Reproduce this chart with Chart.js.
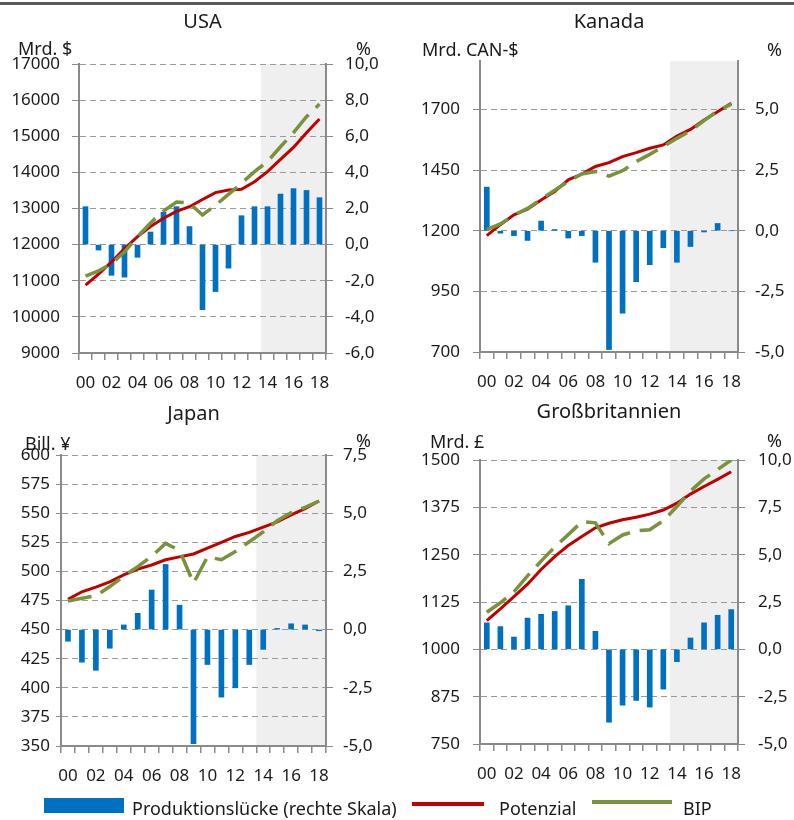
<!DOCTYPE html>
<html lang="de">
<head>
<meta charset="utf-8">
<title>Produktionslücke, Potenzial und BIP</title>
<script src="https://cdn.jsdelivr.net/npm/chart.js@4.4.1/dist/chart.umd.min.js"></script>
<style>
  html, body { margin: 0; padding: 0; background: #fff; }
  body { width: 794px; height: 820px; position: relative; overflow: hidden;
         font-family: "Noto Sans", "DejaVu Sans", sans-serif; color: #1a1a1a; }
  .rule { position: absolute; left: 0; top: 2px; width: 794px; height: 3px; background: #5a5a5a; }
  .panel { position: absolute; width: 397px; height: 400px; }
  .legend { position: absolute; left: 0; top: 0; width: 794px; height: 820px; pointer-events: none; }
  .legend .sw { position: absolute; }
  .legend .tx { position: absolute; font-size: 18px; line-height: 18px; white-space: nowrap; }
</style>
</head>
<body>
<div class="rule"></div>
<canvas id="usa" class="panel" width="397" height="400" style="left:0;top:0"></canvas>
<canvas id="can" class="panel" width="397" height="400" style="left:397px;top:0"></canvas>
<canvas id="jpn" class="panel" width="397" height="400" style="left:0;top:400px"></canvas>
<canvas id="gbr" class="panel" width="397" height="400" style="left:397px;top:400px"></canvas>

<div class="legend">
  <div class="sw" style="left:44px;top:798px;width:80px;height:15px;background:#0070C0"></div>
  <div class="tx" style="left:132px;top:799px">Produktionslücke (rechte Skala)</div>
  <div class="sw" style="left:412px;top:802px;width:72px;height:4px;background:#C00000"></div>
  <div class="tx" style="left:499px;top:799px">Potenzial</div>
  <div class="sw" style="left:592px;top:800px;width:80px;height:4px;background:#77933C"></div>
  <div class="tx" style="left:683px;top:799px">BIP</div>
</div>

<script>
// Years 2000–2018, shown as two-digit labels
const years = ['00','01','02','03','04','05','06','07','08','09','10','11','12','13','14','15','16','17','18'];

// USA (Mrd. $; output gap in %)
const usaGap = [2.1, -0.3, -1.7, -1.8, -0.7, 0.7, 1.8, 2.1, 1.0, -3.6, -2.6, -1.3, 1.6, 2.1, 2.1, 2.8, 3.1, 3.0, 2.6];
const usaPot = [10880, 11180, 11520, 11890, 12220, 12500, 12730, 12920, 13050, 13250, 13440, 13510, 13530, 13740, 14020, 14360, 14690, 15100, 15480];
const usaGdp = [11130, 11270, 11480, 11800, 12220, 12600, 12930, 13180, 13150, 12820, 13090, 13390, 13700, 14020, 14300, 14710, 15100, 15540, 15890];

// Kanada (Mrd. CAN-$)
const canGap = [1.8, -0.1, -0.2, -0.4, 0.4, 0.05, -0.3, -0.2, -1.3, -4.9, -3.4, -2.1, -1.4, -0.7, -1.3, -0.65, -0.05, 0.3, 0];
const canPot = [1180, 1225, 1266, 1289, 1327, 1362, 1410, 1434, 1465, 1481, 1506, 1522, 1540, 1554, 1591, 1618, 1657, 1691, 1726];
const canGdp = [1205, 1228, 1264, 1292, 1330, 1367, 1404, 1434, 1444, 1425, 1448, 1485, 1515, 1547, 1581, 1612, 1654, 1694, 1722];

// Japan (Bill. ¥)
const jpnGap = [-0.5, -1.4, -1.75, -0.8, 0.2, 0.7, 1.7, 2.8, 1.05, -4.9, -1.5, -2.9, -2.5, -1.5, -0.85, 0.05, 0.25, 0.2, -0.05];
const jpnPot = [476, 482.5, 486.5, 491, 497, 502, 505.5, 510, 512.5, 515, 520, 525, 530, 533.5, 538, 542.5, 548.5, 554, 560.5];
const jpnGdp = [474.5, 477, 479, 487, 496, 504, 513, 524, 518, 490, 512.5, 510, 517, 525.5, 534, 543.5, 550.5, 555, 560.5];

// Großbritannien (Mrd. £)
const gbrGap = [1.4, 1.2, 0.65, 1.65, 1.85, 2.0, 2.3, 3.7, 0.95, -3.85, -2.95, -2.7, -3.05, -2.1, -0.65, 0.6, 1.4, 1.8, 2.1];
const gbrPot = [1076, 1107, 1139, 1172, 1211, 1245, 1274, 1298, 1321, 1333, 1342, 1349, 1357, 1368, 1386, 1410, 1430, 1449, 1469];
const gbrGdp = [1098, 1123, 1152, 1194, 1233, 1270, 1303, 1337, 1334, 1279, 1302, 1313, 1316, 1340, 1377, 1418, 1450, 1475, 1500];

// Axis tick values (left: level, right: output gap)
const usaLeftTicks  = [9000, 10000, 11000, 12000, 13000, 14000, 15000, 16000, 17000];
const usaRightTicks = [-6, -4, -2, 0, 2, 4, 6, 8, 10];
const canLeftTicks  = [700, 950, 1200, 1450, 1700];
const canRightTicks = [-5, -2.5, 0, 2.5, 5];
const jpnLeftTicks  = [350, 375, 400, 425, 450, 475, 500, 525, 550, 575, 600];
const jpnRightTicks = [-5, -2.5, 0, 2.5, 5, 7.5];
const gbrLeftTicks  = [750, 875, 1000, 1125, 1250, 1375, 1500];
const gbrRightTicks = [-5, -2.5, 0, 2.5, 5, 7.5, 10];

// First forecast year (shaded from here to the right edge)
const forecastStart = '14';

const BLUE = '#0070C0', RED = '#C00000', GREEN = '#77933C';
const AXIS = '#8a8a8a', GRID = '#9a9a9a', TEXT = '#1a1a1a', SHADE = '#efefef';
const FONT = '"Noto Sans", "DejaVu Sans", sans-serif';

const fmtPct = v => v.toFixed(1).replace('.', ',');

// Shaded forecast range and panel captions
const panelDecor = {
  id: 'panelDecor',
  beforeDraw(chart) {
    const {ctx, chartArea: a, scales: {x}} = chart;
    const idx = years.indexOf(forecastStart);
    const x0 = x.getPixelForValue(idx - 0.5);
    ctx.save();
    ctx.fillStyle = SHADE;
    ctx.fillRect(x0, a.top, a.right - x0, a.bottom - a.top);
    ctx.restore();
  },
  afterDraw(chart, args, o) {
    const {ctx, chartArea: a} = chart;
    ctx.save();
    ctx.fillStyle = TEXT;
    ctx.textBaseline = 'alphabetic';
    ctx.font = '20px ' + FONT;
    ctx.textAlign = 'center';
    ctx.fillText(o.title, (a.left + a.right) / 2, o.titleY);
    ctx.font = '18px ' + FONT;
    ctx.textAlign = 'left';
    ctx.fillText(o.unit, o.unitX, o.unitY);
    ctx.fillText('%', o.pctX, o.pctY);
    ctx.restore();
  }
};

function buildPanel(id, p) {
  const tickFont = {family: FONT, size: 17};
  return new Chart(document.getElementById(id), {
    type: 'bar',
    data: {
      labels: years,
      datasets: [
        {type: 'line', label: 'BIP', data: p.gdp, yAxisID: 'y', borderColor: GREEN, borderWidth: 3.5,
         borderDash: [24, 10], borderCapStyle: 'butt', pointRadius: 0, tension: 0, order: 0},
        {type: 'line', label: 'Potenzial', data: p.pot, yAxisID: 'y', borderColor: RED, borderWidth: 3,
         pointRadius: 0, tension: 0, order: 1},
        {type: 'bar', label: 'Produktionslücke (rechte Skala)', data: p.gap, yAxisID: 'y1',
         backgroundColor: BLUE, barThickness: 5, order: 2}
      ]
    },
    options: {
      responsive: false, animation: false, devicePixelRatio: 1,
      layout: {padding: {top: p.top, left: 0, right: 0, bottom: 0}},
      plugins: {
        legend: {display: false}, tooltip: {enabled: false}, title: {display: false},
        panelDecor: p.text
      },
      scales: {
        x: {
          grid: {display: true, drawOnChartArea: false, offset: true, tickLength: 7, color: AXIS, lineWidth: 1.5},
          border: {display: true, color: AXIS, width: 2},
          ticks: {autoSkip: false, maxRotation: 0, padding: 13, font: tickFont, color: TEXT,
                  callback: (v, i) => (i % 2 === 0 ? years[i] : '')},
          afterFit: s => { s.height = p.xh; }
        },
        y: {
          position: 'left', min: p.lmin, max: p.lmax,
          grid: {color: GRID, lineWidth: 1, tickLength: p.ltl, tickColor: AXIS, tickBorderDash: []},
          border: {display: true, color: AXIS, width: 2, dash: [6, 4]},
          ticks: {padding: p.lpad, font: tickFont, color: TEXT, callback: v => String(v)},
          afterBuildTicks: s => { s.ticks = p.lticks.map(v => ({value: v})); },
          afterFit: s => { s.width = p.lw; }
        },
        y1: {
          position: 'right', min: p.rmin, max: p.rmax,
          grid: {drawOnChartArea: false, tickLength: 7, color: AXIS, tickColor: AXIS},
          border: {display: true, color: AXIS, width: 2},
          ticks: {padding: p.rpad, font: tickFont, color: TEXT, callback: v => fmtPct(v)},
          afterBuildTicks: s => { s.ticks = p.rticks.map(v => ({value: v})); },
          afterFit: s => { s.width = p.rw; }
        }
      }
    },
    plugins: [panelDecor]
  });
}

buildPanel('usa', {
  gap: usaGap, pot: usaPot, gdp: usaGdp,
  lmin: 9000, lmax: 17000, lticks: usaLeftTicks, rmin: -6, rmax: 10, rticks: usaRightTicks,
  top: 64, xh: 47, lw: 79, rw: 71, ltl: 7, lpad: 12, rpad: 12,
  text: {title: 'USA', titleY: 28, unit: 'Mrd. $', unitX: 18, unitY: 55, pctX: 356, pctY: 55}
});
buildPanel('can', {
  gap: canGap, pot: canPot, gdp: canGdp,
  lmin: 700, lmax: 1900, lticks: canLeftTicks, rmin: -5, rmax: 7, rticks: canRightTicks,
  top: 61, xh: 48, lw: 83, rw: 56, ltl: 7, lpad: 13, rpad: 10,
  text: {title: 'Kanada', titleY: 28, unit: 'Mrd. CAN-$', unitX: 25, unitY: 56, pctX: 370, pctY: 56}
});
buildPanel('jpn', {
  gap: jpnGap, pot: jpnPot, gdp: jpnGdp,
  lmin: 350, lmax: 600, lticks: jpnLeftTicks, rmin: -5, rmax: 7.5, rticks: jpnRightTicks,
  top: 55, xh: 54, lw: 61, rw: 71, ltl: 5, lpad: 6, rpad: 10,
  text: {title: 'Japan', titleY: 20, unit: 'Bill. ¥', unitX: 25, unitY: 50, pctX: 356, pctY: 47}
});
buildPanel('gbr', {
  gap: gbrGap, pot: gbrPot, gdp: gbrGdp,
  lmin: 750, lmax: 1500, lticks: gbrLeftTicks, rmin: -5, rmax: 10, rticks: gbrRightTicks,
  top: 60, xh: 56, lw: 83, rw: 56, ltl: 7, lpad: 13, rpad: 13,
  text: {title: 'Großbritannien', titleY: 18, unit: 'Mrd. £', unitX: 33, unitY: 48, pctX: 370, pctY: 47}
});
</script>
</body>
</html>
